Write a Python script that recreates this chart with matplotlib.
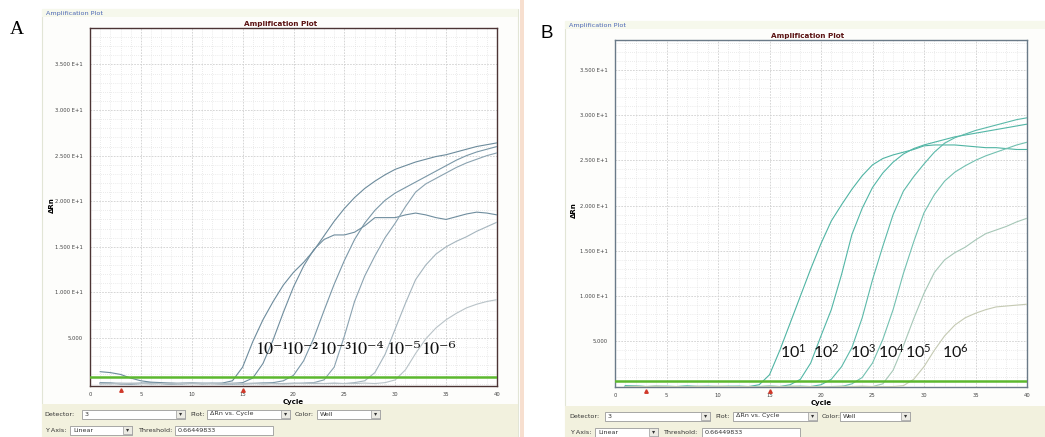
import matplotlib
matplotlib.use("Agg")
import matplotlib.pyplot as plt
from matplotlib.patches import Rectangle
from matplotlib.ticker import MultipleLocator
from matplotlib.transforms import blended_transform_factory

W, H, DPI = 1045, 437, 100

plt.rcParams['mathtext.fontset'] = 'custom'
plt.rcParams['mathtext.rm'] = 'Lato'
plt.rcParams['mathtext.it'] = 'Lato:italic'
plt.rcParams['mathtext.bf'] = 'Lato:bold'

CYCLES = list(range(1, 41))

# Panel A - delta Rn per cycle for the six dilutions
A_1 = [1.3, 1.2, 1.0, 0.6, 0.3, 0.15, 0.1, 0.05, 0.0, 0.05, 0.0, 0.0, 0.05, 0.3, 1.8,
       4.6, 7.0, 9.0, 10.8, 12.2, 13.3, 14.6, 16.2, 17.8, 19.2, 20.4, 21.4, 22.2, 22.9, 23.5,
       23.9, 24.3, 24.6, 24.9, 25.1, 25.4, 25.7, 26.0, 26.2, 26.4]
A_2 = [0.1, 0.05, 0.0, -0.05, 0.0, 0.05, 0.0, -0.05, 0.0, 0.05, 0.0, 0.0, -0.05, 0.0, 0.1,
       0.6, 2.2, 4.8, 7.8, 10.6, 12.9, 14.7, 15.8, 16.3, 16.3, 16.6, 17.3, 18.2, 18.2, 18.2,
       18.5, 18.7, 18.5, 18.2, 18.0, 18.3, 18.6, 18.8, 18.7, 18.5]
A_3 = [0.0, 0.05, -0.05, 0.0, 0.05, 0.0, 0.0, -0.05, 0.05, 0.0, 0.0, 0.05, 0.0, -0.05, 0.0,
       0.0, 0.05, 0.1, 0.3, 0.9, 2.5, 5.0, 8.0, 10.9, 13.5, 15.8, 17.6, 19.0, 20.1, 20.9,
       21.5, 22.1, 22.7, 23.3, 23.9, 24.5, 25.0, 25.4, 25.7, 26.0]
A_4 = [0.05, 0.0, 0.0, -0.05, 0.0, 0.05, 0.0, 0.0, -0.05, 0.0, 0.05, 0.0, 0.0, 0.0, -0.05,
       0.0, 0.05, 0.0, 0.0, 0.0, 0.05, 0.1, 0.4, 1.8, 5.2, 9.0, 11.8, 14.0, 16.0, 17.6,
       19.4, 21.0, 21.9, 22.5, 23.1, 23.7, 24.2, 24.6, 25.0, 25.3]
A_5 = [-0.05, 0.0, 0.05, 0.0, 0.0, -0.05, 0.0, 0.05, 0.0, 0.0, -0.05, 0.0, 0.0, 0.05, 0.0,
       0.0, -0.05, 0.0, 0.0, 0.05, 0.0, 0.0, 0.0, 0.05, 0.0, 0.1, 0.3, 1.2, 3.2, 6.0,
       8.8, 11.4, 13.0, 14.2, 15.0, 15.6, 16.1, 16.7, 17.2, 17.7]
A_6 = [0.0, -0.05, 0.0, 0.05, 0.0, 0.0, 0.0, -0.05, 0.0, 0.05, 0.0, 0.0, -0.05, 0.0, 0.0,
       0.05, 0.0, 0.0, -0.05, 0.0, 0.0, 0.05, 0.0, 0.0, 0.0, 0.0, 0.05, 0.0, 0.1, 0.4,
       1.5, 3.3, 4.9, 6.1, 7.0, 7.7, 8.3, 8.7, 9.0, 9.2]

# Panel B
B_1 = [0.1, 0.05, 0.0, 0.0, -0.05, 0.0, 0.05, 0.0, 0.0, -0.05, 0.0, 0.0, 0.0, 0.2, 1.3,
       4.0, 7.0, 10.0, 13.0, 15.8, 18.3, 20.1, 21.8, 23.3, 24.5, 25.2, 25.6, 25.9, 26.2, 26.6,
       26.7, 26.7, 26.7, 26.6, 26.5, 26.4, 26.4, 26.3, 26.2, 26.2]
B_2 = [0.0, 0.05, 0.0, -0.05, 0.0, 0.0, 0.05, 0.0, -0.05, 0.0, 0.0, 0.05, 0.0, 0.0, 0.0,
       0.0, 0.2, 0.8, 2.6, 5.6, 8.5, 12.4, 16.8, 19.7, 22.0, 23.6, 24.8, 25.7, 26.3, 26.7,
       27.0, 27.3, 27.6, 27.8, 28.0, 28.2, 28.4, 28.6, 28.8, 29.0]
B_3 = [0.05, 0.0, 0.0, 0.05, 0.0, -0.05, 0.0, 0.0, 0.05, 0.0, 0.0, -0.05, 0.0, 0.0, 0.05,
       0.0, 0.0, 0.0, 0.0, 0.2, 0.8, 2.2, 4.3, 7.6, 11.8, 15.5, 19.0, 21.6, 23.2, 24.6,
       25.9, 26.9, 27.5, 27.9, 28.3, 28.6, 28.9, 29.2, 29.5, 29.7]
B_4 = [0.0, 0.0, -0.05, 0.0, 0.05, 0.0, 0.0, 0.0, -0.05, 0.0, 0.05, 0.0, 0.0, 0.0, 0.0,
       -0.05, 0.0, 0.05, 0.0, 0.0, 0.0, 0.0, 0.3, 1.0, 2.6, 5.2, 8.5, 12.5, 16.0, 19.2,
       21.2, 22.7, 23.7, 24.4, 25.0, 25.5, 25.9, 26.3, 26.7, 27.0]
B_5 = [0.0, 0.05, 0.0, 0.0, 0.0, -0.05, 0.0, 0.05, 0.0, 0.0, 0.0, -0.05, 0.0, 0.0, 0.05,
       0.0, 0.0, 0.0, -0.05, 0.0, 0.0, 0.05, 0.0, 0.0, 0.0, 0.3, 1.8, 4.5, 7.5, 10.3,
       12.6, 14.0, 14.8, 15.4, 16.2, 16.9, 17.3, 17.7, 18.2, 18.6]
B_6 = [-0.05, 0.0, 0.0, 0.05, 0.0, 0.0, -0.05, 0.0, 0.0, 0.05, 0.0, 0.0, 0.0, -0.05, 0.0,
       0.0, 0.05, 0.0, 0.0, 0.0, -0.05, 0.0, 0.0, 0.05, 0.0, 0.0, 0.0, 0.1, 0.8, 2.2,
       4.0, 5.6, 6.8, 7.6, 8.1, 8.5, 8.8, 8.9, 9.0, 9.1]

THRESHOLD = 0.66449833
X_TICKS = [0, 5, 10, 15, 20, 25, 30, 35, 40]
Y_TICKS = [5, 10, 15, 20, 25, 30, 35]
Y_TICK_LABELS = ["5.000", "1.000 E+1", "1.500 E+1", "2.000 E+1", "2.500 E+1",
                 "3.000 E+1", "3.500 E+1"]
BASELINE_MARKS = [3, 15]

A_LABELS = ["10\u207b\u00b9", "10\u207b\u00b2", "10\u207b\u00b3",
            "10\u207b\u2074", "10\u207b\u2075", "10\u207b\u2076"]
A_LABEL_X = [16.3, 19.3, 22.5, 25.5, 29.2, 32.6]
B_LABELS = [r"$\mathrm{10^{1}}$", r"$\mathrm{10^{2}}$", r"$\mathrm{10^{3}}$",
            r"$\mathrm{10^{4}}$", r"$\mathrm{10^{5}}$", r"$\mathrm{10^{6}}$"]
B_LABEL_X = [16.0, 19.2, 22.8, 25.5, 28.2, 31.7]

A_COLORS = ["#6c8b9c", "#6f8d9e", "#7a97a7", "#8aa2b0", "#a5b5be", "#b9c3c8"]
B_COLORS = ["#4fb4a3", "#52b6a6", "#5bb9a9", "#72c0b0", "#a6c7b7", "#c5cab3"]


def dropdown(bg, x0, x1, y, text, button=True):
    bg.add_patch(Rectangle((x0, y - 4.5), x1 - x0, 9, facecolor="white",
                           edgecolor="#9a9a9a", lw=0.6))
    bg.text(x0 + 3, y, text, fontsize=4.6, va="center", ha="left", color="#333333")
    if button:
        bg.add_patch(Rectangle((x1 - 9, y - 4), 8.5, 8, facecolor="#ecebe4",
                               edgecolor="#9a9a9a", lw=0.5))
        bg.text(x1 - 4.7, y, "\u25be", fontsize=4.5, va="center", ha="center",
                color="#333333")


def draw_window(bg, x0, y0, x1, ctrl_y0, ctrl):
    bg.add_patch(Rectangle((x0, y0), x1 - x0, H - y0, facecolor="#fdfdfb",
                           edgecolor="#e2e5d6", lw=0.8))
    bg.add_patch(Rectangle((x0, y0), x1 - x0, 8, facecolor="#f6f8ec",
                           edgecolor="none"))
    bg.text(x0 + 4, y0 + 4, "Amplification Plot", fontsize=4.6, color="#4a66b4",
            va="center", ha="left")
    bg.add_patch(Rectangle((x0, ctrl_y0), x1 - x0, H - ctrl_y0,
                           facecolor="#f2f1de", edgecolor="none"))
    r1, r2 = ctrl["rows"]
    bg.text(ctrl["det"], r1, "Detector:", fontsize=4.6, va="center", color="#333333")
    dropdown(bg, ctrl["det_box"][0], ctrl["det_box"][1], r1, "3")
    bg.text(ctrl["plot"], r1, "Plot:", fontsize=4.6, va="center", color="#333333")
    dropdown(bg, ctrl["plot_box"][0], ctrl["plot_box"][1], r1, "\u0394Rn vs. Cycle")
    bg.text(ctrl["color"], r1, "Color:", fontsize=4.6, va="center", color="#333333")
    dropdown(bg, ctrl["color_box"][0], ctrl["color_box"][1], r1, "Well")
    bg.text(ctrl["det"] + 1, r2, "Y Axis:", fontsize=4.6, va="center", color="#333333")
    dropdown(bg, ctrl["y_box"][0], ctrl["y_box"][1], r2, "Linear")
    bg.text(ctrl["thr"], r2, "Threshold:", fontsize=4.6, va="center", color="#333333")
    dropdown(bg, ctrl["thr_box"][0], ctrl["thr_box"][1], r2, "0.66449833", button=False)


def draw_plot(ax, curves, colors, ylim, spine_color):
    ax.set_facecolor("white")
    ax.set_xlim(0, 40)
    ax.set_ylim(*ylim)
    ax.xaxis.set_minor_locator(MultipleLocator(1))
    ax.yaxis.set_minor_locator(MultipleLocator(1))
    ax.grid(which="minor", color="#d9d9d9", lw=0.5, linestyle=(0, (1, 2)))
    ax.grid(which="major", color="#cfcfcf", lw=0.6, linestyle=(0, (2, 1.5)))
    ax.set_axisbelow(True)
    for vals, c in zip(curves, colors):
        ax.plot(CYCLES, vals, color=c, lw=0.8, zorder=3)
    ax.axhline(THRESHOLD, color="#5cb82e", lw=1.8, zorder=4)
    ax.set_xticks(X_TICKS)
    ax.set_yticks(Y_TICKS)
    ax.set_yticklabels(Y_TICK_LABELS)
    ax.tick_params(axis="both", which="both", length=0, labelsize=3.8,
                   labelcolor="#444444")
    ax.tick_params(axis="x", pad=4)
    ax.tick_params(axis="y", pad=5)
    for s in ax.spines.values():
        s.set_color(spine_color)
        s.set_linewidth(1.0)
    ax.set_xlabel("Cycle", fontsize=5, fontweight="bold", labelpad=1.5)
    tr = blended_transform_factory(ax.transData, ax.transAxes)
    ax.plot(BASELINE_MARKS, [-0.012] * len(BASELINE_MARKS), marker="^", ms=2.5,
            color="#d0392a", lw=0, transform=tr, clip_on=False, zorder=5)
    ax.text(0.467, 1.004, "Amplification Plot", transform=ax.transAxes,
            fontsize=5.2, fontweight="bold", color="#5a1212", ha="center", va="bottom")


fig = plt.figure(figsize=(W / DPI, H / DPI), dpi=DPI)
fig.patch.set_facecolor("white")
bg = fig.add_axes([0, 0, 1, 1], zorder=0)
bg.set_xlim(0, W)
bg.set_ylim(H, 0)
bg.axis("off")

draw_window(bg, 42, 9, 518, 404, {
    "rows": (414, 430), "det": 44, "det_box": (82, 185), "plot": 190,
    "plot_box": (207, 290), "color": 295, "color_box": (317, 380),
    "y_box": (70, 132), "thr": 138, "thr_box": (175, 273)})
draw_window(bg, 565, 21, 1046, 406, {
    "rows": (416, 432), "det": 569, "det_box": (605, 710), "plot": 715,
    "plot_box": (733, 817), "color": 822, "color_box": (840, 910),
    "y_box": (595, 658), "thr": 663, "thr_box": (702, 800)})
bg.add_patch(Rectangle((520, 0), 3.5, H, facecolor="#f7dfcf", edgecolor="none"))

bg.text(10, 30, "A", fontsize=14, family="Liberation Serif", va="center", ha="left")
bg.text(541, 33, "B", fontsize=13.5, family="Liberation Sans", va="center", ha="left")
bg.text(52, 205, "\u0394Rn", fontsize=5, fontweight="bold", rotation=90,
        va="center", ha="center")
bg.text(574, 210, "\u0394Rn", fontsize=5, fontweight="bold", rotation=90,
        va="center", ha="center")

ax_a = fig.add_axes([90 / W, 1 - 386 / H, 407 / W, 358 / H], zorder=1)
draw_plot(ax_a, [A_1, A_2, A_3, A_4, A_5, A_6], A_COLORS, (-0.27, 39.0), "#4c3434")
for lab, x in zip(A_LABELS, A_LABEL_X):
    ax_a.text(x, 3.7, lab, fontsize=13, ha="left", va="center", color="#111111",
              family=["STIXGeneral", "DejaVu Serif"], zorder=6)

ax_b = fig.add_axes([615 / W, 1 - 387 / H, 412 / W, 347 / H], zorder=1)
draw_plot(ax_b, [B_1, B_2, B_3, B_4, B_5, B_6], B_COLORS, (-0.05, 38.3), "#6a7a88")
for lab, x in zip(B_LABELS, B_LABEL_X):
    ax_b.text(x, 3.8, lab, fontsize=11.5, ha="left", va="center", color="#111111",
              math_fontfamily="custom", zorder=6)

fig.savefig("out.png", dpi=DPI, facecolor="white")
